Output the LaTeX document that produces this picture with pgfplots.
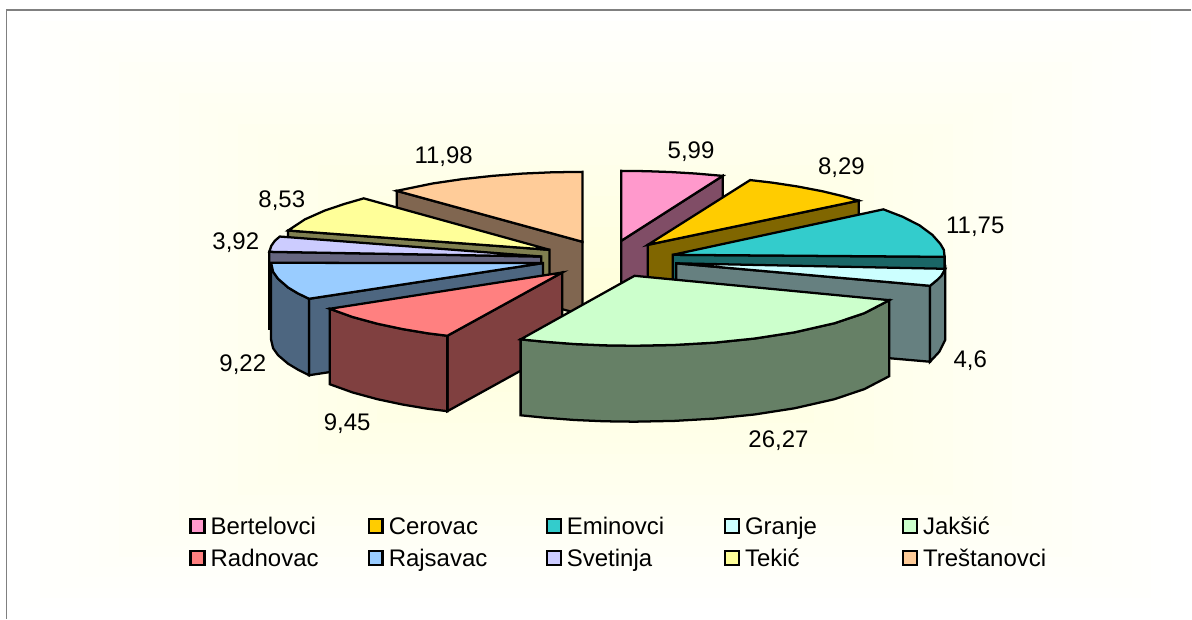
\documentclass[border=0pt]{standalone}
\usepackage{fontspec}
\setmainfont{Liberation Sans}
\usepackage{pgfplots}
\pgfplotsset{compat=1.18}
\definecolor{cPink}{HTML}{FF99CC}\definecolor{wPink}{HTML}{804D66}
\definecolor{cGold}{HTML}{FFCC00}\definecolor{wGold}{HTML}{806600}
\definecolor{cTeal}{HTML}{33CCCC}\definecolor{wTeal}{HTML}{1A6666}
\definecolor{cCyan}{HTML}{CCFFFF}\definecolor{wCyan}{HTML}{668080}
\definecolor{cGreen}{HTML}{CCFFCC}\definecolor{wGreen}{HTML}{668066}
\definecolor{cRed}{HTML}{FF8080}\definecolor{wRed}{HTML}{804040}
\definecolor{cBlue}{HTML}{99CCFF}\definecolor{wBlue}{HTML}{4D6680}
\definecolor{cLilac}{HTML}{CCCCFF}\definecolor{wLilac}{HTML}{666680}
\definecolor{cYellow}{HTML}{FFFF99}\definecolor{wYellow}{HTML}{808050}
\definecolor{cOrange}{HTML}{FFCC99}\definecolor{wOrange}{HTML}{806650}
\definecolor{bgCentre}{HTML}{FFFFD8}
\newcommand\lab[1]{\makebox[117.75pt][l]{#1}}
\pgfplotsset{
  slice/.style={draw=black,line width=1.7pt,line join=miter,miter limit=6,fill=#1,forget plot,mark=none},
  swatch/.style={legend image code/.code={\draw[draw=black,line width=1.7pt,fill=#1] (0.6pt,-4.8pt) rectangle (11.1pt,5.7pt);}}
}
\begin{document}
\begin{tikzpicture}[x=0.75pt,y=0.75pt]
  % background gradient: nested rectangles, white at the rim
  \foreach \i in {0,...,29}{
    \pgfmathsetmacro\f{\i/30}
    \pgfmathsetmacro\c{100*\f}
    \fill[bgCentre!\c!white] ({596*\f},{309.5*\f}) rectangle ({1192-596*\f},{619-309.5*\f});
  }
  \begin{axis}[
    at={(0pt,0pt)},anchor=south west,
    scale only axis,width=894pt,height=464.25pt,
    xmin=0,xmax=1192,ymin=0,ymax=619,y dir=reverse,
    hide axis,clip=false,
    legend columns=5,
    legend style={at={(axis cs:189.5,517.5)},anchor=north west,draw=none,fill=none,
      inner sep=0pt,outer sep=0pt,row sep=9pt,
      font=\fontsize{18}{20}\selectfont,
      nodes={inner sep=0pt,outer sep=0pt},
      /tikz/every odd column/.append style={column sep=3.75pt},
      /tikz/every even column/.append style={column sep=0pt}},
    legend cell align=left,
  ]
  % frame
  \addplot[color=black!50,line width=1.3pt,forget plot,mark=none] coordinates {(6.5,619) (6.5,10) (1192,10)};

  % Trestanovci 11,98
  \addplot[slice=wOrange] coordinates {(397,191) (583,242) (583,315) (397,264)} --cycle;
  \addplot[slice=cOrange] coordinates {(583,242) (583,172) (553,172.4) (523,173.7) (493,176) (463,179.2) (433,183.6) (397,191)} --cycle;
  % Tekic 8,53
  \addplot[slice=wYellow] coordinates {(288.3,230.7) (550,250) (550,322) (288.3,303)} --cycle;
  \addplot[slice=cYellow] coordinates {(550,250) (364,198.5) (345,204) (325,210.7) (305,219.6) (288.3,230.7)} --cycle;
  % Svetinja 3,92
  \addplot[slice=wLilac] coordinates {(269.5,252) (541.7,256.7) (541.7,330) (269.5,329)} --cycle;
  \addplot[slice=cLilac] coordinates {(541.7,256.7) (280,236.7) (275,241) (271.5,246) (269.5,252)} --cycle;
  % Rajsavac 9,22
  \addplot[slice=wBlue] coordinates {(309.3,299) (543.3,263.3) (543.3,340) (309.3,375.5)} --cycle;
  \addplot[slice=wBlue] coordinates {(271.3,263) (273.3,272) (278.3,279) (288.3,287.7) (298.3,293.7) (309.3,299) (309.3,375.5) (298.3,370) (288.3,364) (278.3,355.5) (273.3,348.5) (271.3,340)} --cycle;
  \addplot[slice=cBlue] coordinates {(543.3,263.3) (271.3,263) (273.3,272) (278.3,279) (288.3,287.7) (298.3,293.7) (309.3,299)} --cycle;
  % Radnovac 9,45
  \addplot[slice=wRed] coordinates {(447.7,336) (562.7,272.7) (562.7,348) (447.7,411.5)} --cycle;
  \addplot[slice=wRed] coordinates {(330,309) (352.7,317.2) (377.7,324) (402.7,329.3) (427.7,333.5) (447.7,336) (447.7,411.5) (427.7,409) (402.7,404.8) (377.7,399.5) (352.7,392.7) (330,384.5)} --cycle;
  \addplot[slice=cRed] coordinates {(562.7,272.7) (330,309) (352.7,317.2) (377.7,324) (402.7,329.3) (427.7,333.5) (447.7,336)} --cycle;
  % Bertelovci 5,99
  \addplot[slice=wPink] coordinates {(621.7,241) (723.3,176) (723.3,248) (621.7,313)} --cycle;
  \addplot[slice=cPink] coordinates {(621.7,241) (621.7,171) (646.7,171.3) (671.7,172.2) (696.7,173.7) (723.3,176)} --cycle;
  % Cerovac 8,29
  \addplot[slice=wGold] coordinates {(648.3,245) (859.3,200.8) (859.3,272) (648.3,316)} --cycle;
  \addplot[slice=cGold] coordinates {(648.3,245) (750.7,180.2) (773,182.8) (798,186.6) (823,191.4) (843,196.2) (859.3,200.8)} --cycle;
  % Eminovci 11,75
  \addplot[slice=wTeal] coordinates {(673.3,255) (945.3,257) (945.3,329) (673.3,327)} --cycle;
  \addplot[slice=cTeal] coordinates {(673.3,255) (884,209.5) (903,216.8) (920,225.4) (933,235) (941,244) (944.5,250) (945.3,257)} --cycle;
  % Granje 4,6
  \addplot[slice=wCyan] coordinates {(676.7,263.5) (930.7,286) (930.7,362) (676.7,340)} --cycle;
  \addplot[slice=wCyan] coordinates {(946,269) (942,276) (938,280) (930.7,286) (930.7,362) (940,352) (946,340)} --cycle;
  \addplot[slice=cCyan] coordinates {(676.7,263.5) (930.7,286) (938,280) (942,276) (946,269)} --cycle;
  % Jaksic 26,27
  \addplot[slice=wGreen] coordinates {(521,339.6) (545,342) (575,344.3) (605,345.6) (635,346) (675,345.2) (715,342.9) (755,338.8) (795,332.6) (835,323.5) (865,313.4) (890,300.4) (890,376.4) (865,389.4) (835,399.5) (795,408.6) (755,414.8) (715,418.9) (675,421.2) (635,422) (605,421.6) (575,420.3) (545,418) (521,415.6)} --cycle;
  \addplot[slice=cGreen] coordinates {(635,276) (521,339.6) (545,342) (575,344.3) (605,345.6) (635,346) (675,345.2) (715,342.9) (755,338.8) (795,332.6) (835,323.5) (865,313.4) (890,300.4)} --cycle;

  % legend
  \addlegendimage{swatch=cPink}\addlegendentry{\lab{Bertelovci}}
  \addlegendimage{swatch=cGold}\addlegendentry{\lab{Cerovac}}
  \addlegendimage{swatch=cTeal}\addlegendentry{\lab{Eminovci}}
  \addlegendimage{swatch=cCyan}\addlegendentry{\lab{Granje}}
  \addlegendimage{swatch=cGreen}\addlegendentry{\lab{Jakšić}}
  \addlegendimage{swatch=cRed}\addlegendentry{\lab{Radnovac}}
  \addlegendimage{swatch=cBlue}\addlegendentry{\lab{Rajsavac}}
  \addlegendimage{swatch=cLilac}\addlegendentry{\lab{Svetinja}}
  \addlegendimage{swatch=cYellow}\addlegendentry{\lab{Tekić}}
  \addlegendimage{swatch=cOrange}\addlegendentry{\lab{Treštanovci}}

  % data labels
  \tikzset{val/.style={font=\fontsize{18}{20}\selectfont,inner sep=0pt,anchor=center}}
  \node[val] at (axis cs:691.5,151.5) {5,99};
  \node[val] at (axis cs:842,167.5) {8,29};
  \node[val] at (axis cs:976,226.5) {11,75};
  \node[val] at (axis cs:971,360.5) {4,6};
  \node[val] at (axis cs:779,440.5) {26,27};
  \node[val] at (axis cs:347.5,423.5) {9,45};
  \node[val] at (axis cs:243,364.5) {9,22};
  \node[val] at (axis cs:236,242.5) {3,92};
  \node[val] at (axis cs:282,200.5) {8,53};
  \node[val] at (axis cs:444,156.5) {11,98};
  \end{axis}
\end{tikzpicture}
\end{document}
